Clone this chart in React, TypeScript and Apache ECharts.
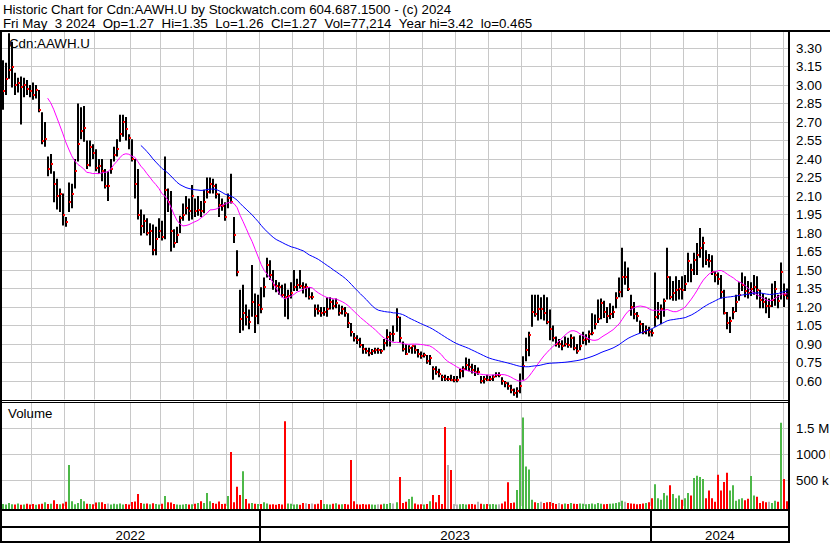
import React, { useEffect, useRef } from "react";
import * as echarts from "echarts";

// ---------- texts ----------
const TITLE_LINE_1 = "Historic Chart for Cdn:AAWH.U by Stockwatch.com 604.687.1500 - (c) 2024";
const TITLE_LINE_2 = "Fri May  3 2024  Op=1.27  Hi=1.35  Lo=1.26  Cl=1.27  Vol=77,214  Year hi=3.42  lo=0.465";
const SYMBOL_LABEL = "Cdn:AAWH.U";
const VOLUME_LABEL = "Volume";
const volumeTickLabels = ["500 k", "1000 k", "1.5 M"];

// ---------- time axis (each point = 2 trading days) ----------
const months = [
  "2022-05", "2022-06", "2022-07", "2022-08", "2022-09", "2022-10", "2022-11", "2022-12",
  "2023-01", "2023-02", "2023-03", "2023-04", "2023-05", "2023-06", "2023-07", "2023-08",
  "2023-09", "2023-10", "2023-11", "2023-12",
  "2024-01", "2024-02", "2024-03", "2024-04", "2024-05",
];
const pointsPerMonth = [
  10, 11, 10, 12, 10, 11, 11, 11,
  11, 10, 11, 11, 11, 11, 11, 11, 10, 11, 12, 10,
  11, 11, 11, 11, 2,
];

// ---------- prices ----------
const high = [
  3.20, 3.18, 3.42, 3.35, 3.10, 3.06, 3.07, 3.06, 3.04, 3.00,
  3.02, 3.00, 2.96, 2.78, 2.70, 2.42, 2.44, 2.30, 2.24, 2.16,
  2.12, 1.93, 2.21, 2.20, 2.40, 2.85, 2.82, 2.83, 2.55, 2.55,
  2.52, 2.48, 2.40, 2.40, 2.32, 2.30, 2.40, 2.50, 2.56, 2.76,
  2.76, 2.74, 2.60, 2.56, 2.40, 2.32, 1.99, 1.95, 1.92, 1.88,
  1.87, 1.85, 1.92, 1.90, 2.42, 2.16, 2.14, 1.83, 1.85, 1.94,
  2.04, 2.10, 2.08, 2.19, 2.08, 2.10, 2.06, 2.15, 2.25, 2.25,
  2.24, 2.20, 2.12, 2.08, 2.05, 2.12, 2.28, 1.93, 1.66, 1.34,
  1.38, 1.22, 1.18, 1.54, 1.31, 1.30, 1.36, 1.44, 1.60, 1.58,
  1.50, 1.42, 1.40, 1.38, 1.39, 1.34, 1.40, 1.50, 1.43, 1.50,
  1.40, 1.39, 1.36, 1.32, 1.22, 1.22, 1.20, 1.20, 1.28, 1.28,
  1.26, 1.27, 1.22, 1.21, 1.20, 1.15, 1.07, 0.99, 0.97, 0.95,
  0.90, 0.87, 0.87, 0.86, 0.87, 0.87, 0.86, 0.94, 1.02, 1.00,
  1.05, 1.19, 1.12, 0.92, 0.90, 0.89, 0.88, 0.89, 0.86, 0.84,
  0.83, 0.81, 0.81, 0.72, 0.72, 0.70, 0.65, 0.65, 0.64, 0.65,
  0.64, 0.64, 0.70, 0.72, 0.79, 0.78, 0.74, 0.73, 0.71, 0.64,
  0.64, 0.65, 0.64, 0.65, 0.67, 0.67, 0.63, 0.60, 0.59, 0.57,
  0.54, 0.55, 0.66, 0.80, 0.95, 1.00, 1.30, 1.30, 1.30, 1.28,
  1.30, 1.28, 1.18, 1.05, 0.96, 0.94, 0.93, 0.96, 0.95, 0.98,
  0.96, 0.90, 0.97, 1.00, 0.98, 1.01, 1.15, 1.14, 1.26, 1.27,
  1.25, 1.20, 1.23, 1.21, 1.32, 1.44, 1.68, 1.57, 1.52, 1.30,
  1.24, 1.16, 1.09, 1.07, 1.05, 1.04, 1.02, 1.48, 1.24, 1.22,
  1.27, 1.68, 1.45, 1.41, 1.45, 1.42, 1.45, 1.46, 1.64, 1.55,
  1.64, 1.72, 1.84, 1.77, 1.66, 1.63, 1.62, 1.49, 1.48, 1.46,
  1.34, 1.16, 1.12, 1.20, 1.30, 1.40, 1.48, 1.45, 1.41, 1.40,
  1.46, 1.45, 1.34, 1.31, 1.28, 1.27, 1.39, 1.41, 1.30, 1.56,
  1.39, 1.35,
];
const low = [
  2.80, 2.92, 3.05, 2.98, 2.92, 2.94, 2.68, 2.90, 2.92, 2.90,
  2.88, 2.89, 2.78, 2.52, 2.50, 2.26, 2.28, 2.05, 1.99, 1.97,
  1.86, 1.85, 1.97, 2.00, 2.16, 2.38, 2.56, 2.54, 2.32, 2.34,
  2.40, 2.30, 2.28, 2.22, 2.16, 2.06, 2.28, 2.38, 2.42, 2.54,
  2.58, 2.55, 2.48, 2.38, 2.08, 1.91, 1.78, 1.80, 1.78, 1.70,
  1.62, 1.62, 1.76, 1.74, 1.75, 1.97, 1.65, 1.68, 1.72, 1.80,
  1.90, 1.95, 1.90, 1.91, 1.93, 1.94, 1.93, 1.96, 2.08, 2.12,
  2.12, 2.08, 1.93, 1.98, 1.90, 2.00, 2.04, 1.72, 1.45, 0.99,
  1.01, 1.05, 1.02, 1.12, 0.99, 1.06, 1.15, 1.28, 1.44, 1.42,
  1.34, 1.32, 1.30, 1.28, 1.12, 1.10, 1.27, 1.33, 1.33, 1.35,
  1.31, 1.28, 1.26, 1.26, 1.12, 1.14, 1.12, 1.13, 1.12, 1.18,
  1.18, 1.19, 1.13, 1.14, 1.12, 1.03, 0.96, 0.92, 0.90, 0.87,
  0.82, 0.82, 0.80, 0.81, 0.82, 0.82, 0.82, 0.85, 0.88, 0.88,
  0.92, 1.00, 0.91, 0.84, 0.81, 0.83, 0.82, 0.82, 0.79, 0.78,
  0.79, 0.74, 0.73, 0.61, 0.65, 0.63, 0.60, 0.60, 0.60, 0.60,
  0.59, 0.59, 0.62, 0.63, 0.69, 0.68, 0.66, 0.64, 0.65, 0.58,
  0.58, 0.60, 0.60, 0.60, 0.63, 0.63, 0.57, 0.55, 0.53, 0.50,
  0.48, 0.465, 0.50, 0.61, 0.76, 0.80, 1.04, 1.12, 1.09, 1.10,
  1.09, 1.06, 0.93, 0.92, 0.88, 0.87, 0.85, 0.88, 0.87, 0.87,
  0.85, 0.82, 0.85, 0.90, 0.89, 0.91, 0.97, 1.02, 1.07, 1.10,
  1.11, 1.07, 1.10, 1.11, 1.19, 1.28, 1.28, 1.38, 1.33, 1.13,
  1.10, 1.08, 0.99, 0.98, 0.98, 0.96, 0.96, 1.04, 1.10, 1.06,
  1.12, 1.26, 1.26, 1.25, 1.25, 1.26, 1.26, 1.33, 1.40, 1.40,
  1.46, 1.46, 1.60, 1.52, 1.54, 1.52, 1.46, 1.40, 1.38, 1.27,
  1.14, 1.02, 0.99, 1.10, 1.16, 1.25, 1.33, 1.28, 1.27, 1.29,
  1.30, 1.26, 1.19, 1.19, 1.15, 1.11, 1.20, 1.21, 1.19, 1.26,
  1.20, 1.26,
];
const close = [
  2.95, 3.05, 3.12, 3.15, 3.00, 3.02, 2.98, 3.00, 2.97, 2.95,
  2.92, 2.96, 2.80, 2.55, 2.56, 2.32, 2.36, 2.20, 2.10, 2.12,
  1.95, 1.89, 2.05, 2.12, 2.30, 2.52, 2.63, 2.65, 2.35, 2.50,
  2.45, 2.33, 2.34, 2.30, 2.18, 2.18, 2.32, 2.43, 2.48, 2.60,
  2.70, 2.64, 2.57, 2.40, 2.20, 1.95, 1.86, 1.90, 1.80, 1.82,
  1.66, 1.75, 1.82, 1.77, 2.15, 2.05, 1.82, 1.72, 1.78, 1.92,
  1.95, 2.00, 1.98, 2.10, 1.98, 1.99, 1.98, 2.05, 2.13, 2.20,
  2.18, 2.12, 2.03, 2.02, 1.93, 2.08, 2.05, 1.78, 1.48, 1.10,
  1.15, 1.12, 1.08, 1.24, 1.13, 1.22, 1.18, 1.36, 1.54, 1.46,
  1.38, 1.37, 1.36, 1.30, 1.28, 1.29, 1.31, 1.36, 1.38, 1.37,
  1.36, 1.36, 1.28, 1.28, 1.18, 1.17, 1.15, 1.16, 1.18, 1.24,
  1.21, 1.23, 1.15, 1.18, 1.15, 1.07, 1.00, 0.95, 0.93, 0.89,
  0.86, 0.84, 0.83, 0.84, 0.85, 0.85, 0.84, 0.91, 0.96, 0.98,
  0.98, 1.12, 0.95, 0.86, 0.82, 0.87, 0.88, 0.85, 0.82, 0.80,
  0.81, 0.76, 0.79, 0.70, 0.67, 0.66, 0.63, 0.62, 0.62, 0.61,
  0.61, 0.61, 0.68, 0.70, 0.73, 0.71, 0.69, 0.67, 0.67, 0.60,
  0.62, 0.61, 0.62, 0.63, 0.65, 0.65, 0.60, 0.58, 0.56, 0.53,
  0.50, 0.52, 0.56, 0.72, 0.85, 0.97, 1.16, 1.14, 1.18, 1.18,
  1.15, 1.08, 1.02, 0.95, 0.90, 0.90, 0.88, 0.90, 0.89, 0.95,
  0.87, 0.84, 0.88, 0.93, 0.94, 0.98, 0.99, 1.06, 1.10, 1.23,
  1.16, 1.13, 1.14, 1.16, 1.27, 1.32, 1.44, 1.44, 1.35, 1.20,
  1.14, 1.13, 1.06, 1.00, 1.01, 1.00, 0.99, 1.12, 1.14, 1.18,
  1.25, 1.44, 1.28, 1.31, 1.34, 1.35, 1.34, 1.39, 1.57, 1.50,
  1.58, 1.62, 1.68, 1.72, 1.58, 1.57, 1.48, 1.46, 1.43, 1.32,
  1.15, 1.07, 1.09, 1.16, 1.24, 1.30, 1.38, 1.33, 1.31, 1.35,
  1.36, 1.34, 1.26, 1.24, 1.21, 1.21, 1.26, 1.35, 1.25, 1.48,
  1.30, 1.27,
];
// volume in thousands of shares
const volumeK = [
  40, 30, 60, 35, 30, 50, 25, 30, 45, 30,
  40, 25, 35, 45, 70, 40, 45, 110, 40, 35,
  50, 80, 790, 90, 35, 60, 135, 90, 45, 40,
  35, 65, 70, 70, 40, 50, 30, 45, 35, 50,
  30, 40, 30, 75, 85, 230, 60, 45, 50, 35,
  55, 40, 30, 45, 190, 70, 65, 40, 30, 25,
  30, 40, 30, 35, 45, 60, 90, 60, 250, 90,
  60, 45, 85, 40, 45, 190, 1040, 70, 370, 210,
  670, 135, 50, 60, 45, 40, 40, 70, 50, 30,
  35, 25, 40, 30, 1630, 50, 45, 30, 35, 25,
  60, 55, 40, 50, 35, 45, 115, 40, 35, 30,
  45, 55, 30, 35, 40, 30, 885, 90, 35, 30,
  40, 30, 35, 30, 25, 35, 30, 45, 40, 60,
  50, 70, 560, 60, 80, 135, 180, 50, 30, 35,
  30, 40, 90, 210, 70, 210, 40, 1520, 790, 690,
  40, 30, 35, 40, 30, 35, 40, 30, 80, 45,
  35, 40, 35, 40, 30, 35, 50, 85, 455, 60,
  65, 310, 1170, 1700, 760, 700, 120, 70, 60, 80,
  60, 70, 75, 60, 40, 60, 35, 50, 40, 60,
  45, 40, 50, 45, 35, 40, 50, 35, 60, 45,
  35, 40, 45, 50, 60, 70, 100, 80, 60, 50,
  45, 35, 40, 50, 60, 70, 150, 420, 150, 120,
  250, 200, 400, 230, 150, 200, 120, 150, 250, 200,
  540, 580, 560, 520, 150, 300, 150, 80, 600, 300,
  460, 640, 300, 400, 100, 130, 150, 110, 140, 575,
  200, 180, 60, 90, 70, 80, 60, 100, 80, 1600,
  520, 90,
];

const MA_SHORT = 16; // ~30 trading days
const MA_LONG = 47; // ~90 trading days

// ---------- derived structures ----------
const categories: string[] = [];
const monthStart = new Set<number>();
const yearFirstIdx: { year: string; idx: number }[] = [];
months.forEach((m, mi) => {
  const start = categories.length;
  if (start > 0) monthStart.add(start);
  const y = m.slice(0, 4);
  if (!yearFirstIdx.length || yearFirstIdx[yearFirstIdx.length - 1].year !== y) yearFirstIdx.push({ year: y, idx: start });
  for (let k = 0; k < pointsPerMonth[mi]; k++) categories.push(m + "/" + (k + 1));
});

function movingAverage(values: number[], n: number): (number | null)[] {
  return values.map((_, i) => {
    if (i < n - 1) return null;
    let s = 0;
    for (let k = i - n + 1; k <= i; k++) s += values[k];
    return s / n;
  });
}

const FONT = "'Liberation Sans', Arial, sans-serif";
const FS = 13.3;
const GRID_COLOR = "#c8c8c8";
const RED = "#ff0000";
const GREEN = "#4db848";
const GRAY = "#b4b4b4";

export default function App() {
  const ref = useRef<HTMLDivElement>(null);
  useEffect(() => {
    document.body.style.margin = "0";
    if (!ref.current) return;
    const chart = echarts.init(ref.current, null, { renderer: "svg" });

    const priceData = high.map((h, i) => [i, h, low[i], close[i]]);
    const volData = volumeK.map((v, i) => {
      const d = i === 0 ? 1 : Math.sign(close[i] - close[i - 1]);
      return [i, v * 1000, d];
    });
    const splitX = (idx: number) => monthStart.has(idx);

    const xAxisFor = (g: number) => ({
      type: "category",
      gridIndex: g,
      data: categories,
      boundaryGap: true,
      axisLine: { show: false },
      axisTick: { show: false },
      axisLabel: { show: false },
      splitLine: { show: true, interval: splitX, lineStyle: { color: GRID_COLOR, width: 1 } },
    });

    const option: any = {
      animation: false,
      backgroundColor: "#ffffff",
      grid: [
        { left: 1, right: 41, top: 32, bottom: 143.5, containLabel: false, outerBoundsMode: "none" },
        { left: 1, right: 41, top: 403, bottom: 37, containLabel: false, outerBoundsMode: "none" },
      ],
      xAxis: [xAxisFor(0), xAxisFor(1)],
      yAxis: [
        {
          type: "value",
          gridIndex: 0,
          position: "right",
          min: 0.45,
          max: 3.43,
          interval: 0.15,
          axisLine: { show: false },
          axisTick: { show: false },
          axisLabel: {
            formatter: (v: number) => v.toFixed(2),
            showMinLabel: false,
            showMaxLabel: false,
            margin: 7,
            color: "#000",
            fontSize: FS,
            fontFamily: FONT,
          },
          splitLine: { show: true, showMinLine: false, showMaxLine: false, lineStyle: { color: GRID_COLOR, width: 1 } },
        },
        {
          type: "value",
          gridIndex: 1,
          position: "right",
          min: 0,
          max: 1980769,
          interval: 500000,
          axisLine: { show: false },
          axisTick: { show: false },
          axisLabel: {
            formatter: (v: number) => volumeTickLabels[Math.round(v / 500000) - 1] ?? "",
            showMinLabel: false,
            showMaxLabel: false,
            margin: 7,
            color: "#000",
            fontSize: FS,
            fontFamily: FONT,
          },
          splitLine: { show: true, showMinLine: false, showMaxLine: false, lineStyle: { color: GRID_COLOR, width: 1 } },
        },
      ],
      series: [
        {
          type: "custom",
          xAxisIndex: 0,
          yAxisIndex: 0,
          data: priceData,
          encode: { x: 0, y: [1, 2, 3] },
          z: 2,
          renderItem: (_params: any, api: any) => {
            const idx = api.value(0);
            const top = api.coord([idx, api.value(1)]);
            const bot = api.coord([idx, api.value(2)]);
            const cl = api.coord([idx, api.value(3)]);
            const x = Math.round(top[0]);
            return {
              type: "group",
              children: [
                { type: "rect", shape: { x: x - 1, y: top[1], width: 2, height: Math.max(1, bot[1] - top[1]) }, style: { fill: "#000" } },
                { type: "rect", shape: { x: x, y: Math.round(cl[1]) - 1, width: 2, height: 2 }, style: { fill: RED } },
              ],
            };
          },
        },
        {
          type: "line",
          xAxisIndex: 0,
          yAxisIndex: 0,
          data: movingAverage(close, MA_SHORT),
          symbol: "none",
          z: 4,
          lineStyle: { color: "#ff00ff", width: 1 },
        },
        {
          type: "line",
          xAxisIndex: 0,
          yAxisIndex: 0,
          data: movingAverage(close, MA_LONG),
          symbol: "none",
          z: 4,
          lineStyle: { color: "#0000ff", width: 1 },
        },
        {
          type: "custom",
          xAxisIndex: 1,
          yAxisIndex: 1,
          data: volData,
          encode: { x: 0, y: 1 },
          renderItem: (params: any, api: any) => {
            const idx = api.value(0);
            const p = api.coord([idx, api.value(1)]);
            const cs = params.coordSys;
            const bottom = cs.y + cs.height + 3;
            const d = api.value(2);
            const color = d > 0 ? GREEN : d < 0 ? RED : GRAY;
            const x = Math.round(p[0]);
            return { type: "rect", shape: { x: x - 1, y: p[1], width: 2, height: bottom - p[1] }, style: { fill: color } };
          },
        },
      ],
    };
    chart.setOption(option);

    // positions of year boundaries from the category scale
    const px = (i: number) => chart.convertToPixel({ xAxisIndex: 0 }, categories[i]) as number;
    const band = px(1) - px(0);
    const boundary = (i: number) => px(i) - band / 2;
    const plotLeft = boundary(0);
    const plotRight = boundary(categories.length - 1) + band;

    const txt = (text: string, x: number, y: number, align = "left") => ({
      type: "text",
      z: 100,
      style: {
        text: text.replace(/  /g, " \u00a0"),
        x,
        y,
        fill: "#000",
        fontSize: FS,
        fontFamily: FONT,
        textAlign: align,
        textVerticalAlign: "middle",
        verticalAlign: "middle",
      },
    });
    const bar = (x: number, y: number, w: number, h: number) => ({
      type: "rect",
      z: 100,
      shape: { x, y, width: w, height: h },
      style: { fill: "#000" },
    });

    const graphics: any[] = [
      txt(TITLE_LINE_1, 3, 9.5),
      txt(TITLE_LINE_2, 3, 23.5),
      txt(SYMBOL_LABEL, 9, 43),
      txt(VOLUME_LABEL, 8, 413),
      bar(0, 30, 830, 2),
      bar(0, 30, 2, 513),
      bar(788, 30, 2, 513),
      bar(0, 400, 790, 1),
      bar(0, 402, 790, 1),
      bar(0, 509, 790, 2),
      bar(0, 526, 790, 2),
      bar(0, 541, 790, 2),
    ];
    const bounds = yearFirstIdx.map((y) => (y.idx === 0 ? plotLeft : boundary(y.idx)));
    yearFirstIdx.forEach((y, k) => {
      const a = bounds[k];
      const b = k + 1 < bounds.length ? bounds[k + 1] : plotRight;
      if (k > 0) graphics.push(bar(Math.round(a) - 1, 509, 2, 34));
      graphics.push(txt(y.year, (a + b) / 2, 535, "center"));
    });
    chart.setOption({ graphic: graphics });

    return () => chart.dispose();
  }, []);
  return <div ref={ref} style={{ width: 830, height: 543 }} />;
}
